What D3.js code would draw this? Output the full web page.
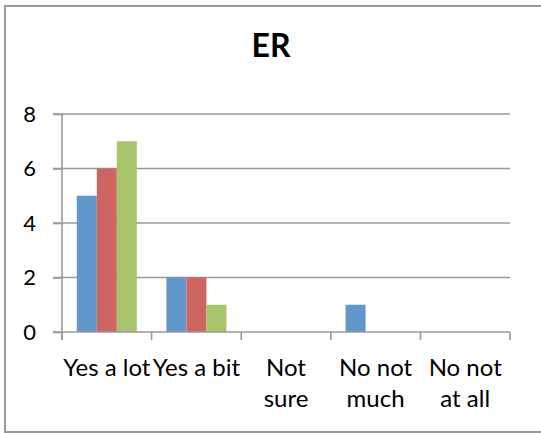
<html>
<head>
<meta charset="utf-8">
<script src="https://d3js.org/d3.v7.min.js"></script>
<style>
  body { margin: 0; background: #fff; }
  text { font-family: Lato, "Open Sans", sans-serif; fill: #000; }
</style>
</head>
<body>
<script>
// chart data
var categories = ["Yes a lot", "Yes a bit", "Not sure", "No not much", "No not at all"]
var labelLines = [["Yes a lot"], ["Yes a bit"], ["Not", "sure"], ["No not", "much"], ["No not", "at all"]]
var seriesNames = ["s1", "s2", "s3"]
var blueVals = [5, 2, 0, 1, 0]
var redVals = [6, 2, 0, 0, 0]
var greenVals = [7, 1, 0, 0, 0]
var yTicks = [0, 2, 4, 6, 8]
var title = "ER"

var allSeries = [blueVals, redVals, greenVals]
var colors = ["#6297CC", "#CD6662", "#AAC46B"]

var width = 541, height = 433
var plotL = 62, plotR = 510, plotT = 114, plotB = 332

var svg = d3.select("body").append("svg")
  .attr("width", width)
  .attr("height", height)

// outer frame
svg.append("rect")
  .attr("x", 5).attr("y", 6)
  .attr("width", 545).attr("height", 426)
  .attr("fill", "white")
  .attr("stroke", "#999").attr("stroke-width", 2)

svg.append("text")
  .attr("x", 271).attr("y", 57)
  .attr("text-anchor", "middle")
  .style("font-size", "32px").style("font-weight", "bold")
  .text(title)

var x = d3.scaleBand().domain(categories).range([plotL, plotR]).paddingInner(0.33).paddingOuter(0.165)
var xs = d3.scaleBand().domain(seriesNames).range([0, x.bandwidth()])
var y = d3.scaleLinear().domain([0, 8]).range([plotB, plotT])

// gridlines
svg.append("g").selectAll("line")
  .data(yTicks.slice(1))
  .enter().append("line")
  .attr("x1", plotL - 9).attr("x2", plotR)
  .attr("y1", d => y(d)).attr("y2", d => y(d))
  .attr("stroke", "#999").attr("stroke-width", 1.6)

// bars
var groups = svg.append("g").selectAll("g")
  .data(allSeries)
  .enter().append("g")
  .attr("fill", (d, i) => colors[i])

groups.selectAll("rect")
  .data((d, i) => d.map((v, j) => ({v: v, c: categories[j], s: seriesNames[i]})).filter(e => e.v > 0))
  .enter().append("rect")
  .attr("x", d => x(d.c) + xs(d.s))
  .attr("width", xs.bandwidth())
  .attr("y", d => y(d.v))
  .attr("height", d => y(0) - y(d.v))

// y axis
var yAxis = d3.axisLeft(y).tickValues(yTicks).tickSize(9).tickPadding(17)
var gy = svg.append("g").attr("transform", "translate(" + plotL + ",0)").call(yAxis)
gy.select(".domain").attr("stroke", "#999").attr("stroke-width", 1.6).attr("d", "M0," + plotT + "V" + (plotB + 8))
gy.selectAll(".tick line").attr("stroke", "#999").attr("stroke-width", 1.6)
gy.selectAll(".tick text").style("font-size", "22px").style("font-family", "Lato, sans-serif")

// x axis
var step = (plotR - plotL) / categories.length
var bounds = d3.range(categories.length + 1).map(i => plotL + i * step)
svg.append("line")
  .attr("x1", plotL - 9).attr("x2", plotR)
  .attr("y1", plotB).attr("y2", plotB)
  .attr("stroke", "#999").attr("stroke-width", 1.6)
svg.append("g").selectAll("line")
  .data(bounds)
  .enter().append("line")
  .attr("x1", d => d).attr("x2", d => d)
  .attr("y1", plotB).attr("y2", plotB + 8)
  .attr("stroke", "#999").attr("stroke-width", 1.6)

var labels = svg.append("g").selectAll("text")
  .data(categories)
  .enter().append("text")
  .attr("text-anchor", "middle")
  .style("font-size", "24px")
  .attr("x", d => x(d) + x.bandwidth() / 2)
  .attr("y", 376)
labels.selectAll("tspan")
  .data((d, i) => labelLines[i])
  .enter().append("tspan")
  .attr("x", function() { return this.parentNode.getAttribute("x") })
  .attr("dy", (d, i) => i == 0 ? 0 : 31)
  .text(d => d)
</script>
</body>
</html>
